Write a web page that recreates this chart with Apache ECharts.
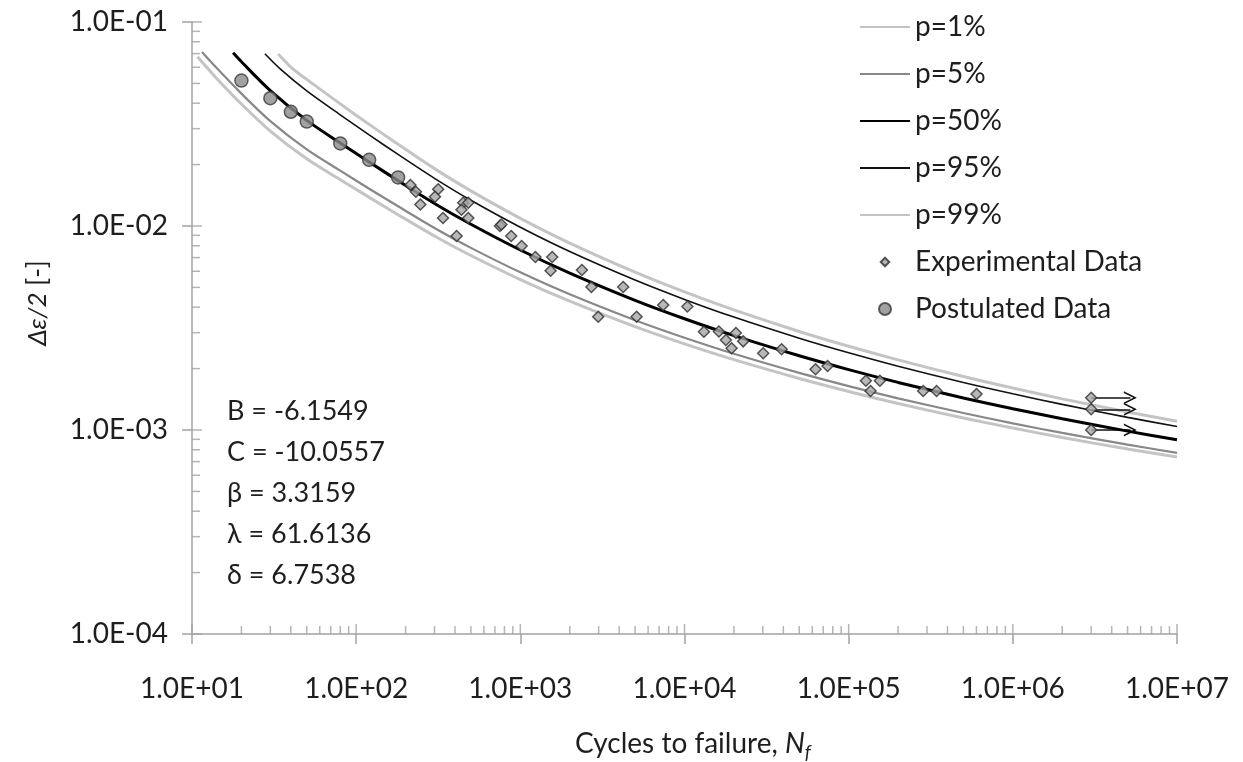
<!DOCTYPE html>
<html><head><meta charset="utf-8">
<script src="https://cdn.jsdelivr.net/npm/echarts@6/dist/echarts.min.js"></script>
<style>html,body{margin:0;padding:0;background:#fff}#c{width:1243px;height:762px}</style>
</head><body><div id="c"></div>
<script>
// ---- data ----
const seriesNames = ['p=1%','p=5%','p=50%','p=95%','p=99%','Experimental Data','Postulated Data'];

const p1N  = [10.8,14,20,30,50,80,120,180,300,500,1e3,2e3,5e3,1e4,2e4,5e4,1e5,2e5,5e5,1e6,2e6,5e6,1e7];
const p1E  = [0.06755,0.05336,0.03962,0.02921,0.02135,0.01687,0.01381,0.01136,0.008937,0.007167,0.005462,0.004279,0.003210,0.002643,0.002212,0.001788,0.001545,0.001349,0.001145,0.001022,0.0009189,0.0008066,0.0007365];

const p5N  = [11.5,14,20,30,50,80,120,180,300,500,1e3,2e3,5e3,1e4,2e4,5e4,1e5,2e5,5e5,1e6,2e6,5e6,1e7];
const p5E  = [0.07123,0.05993,0.04455,0.03267,0.02374,0.01867,0.01523,0.01249,0.009779,0.007814,0.005930,0.004626,0.003453,0.002834,0.002365,0.001905,0.001641,0.001430,0.001211,0.001078,0.0009677,0.0008479,0.0007728];

const p50N = [17.8,20,30,50,80,120,180,300,500,1e3,2e3,5e3,1e4,2e4,5e4,1e5,2e5,5e5,1e6,2e6,5e6,1e7];
const p50E = [0.07059,0.06381,0.04611,0.03293,0.02552,0.02058,0.01669,0.01290,0.01020,0.007626,0.005876,0.004321,0.003510,0.002902,0.002312,0.001977,0.001711,0.001436,0.001272,0.001135,0.0009875,0.0008956];

const p95N = [27.8,35,50,80,120,180,300,500,1e3,2e3,5e3,1e4,2e4,5e4,1e5,2e5,5e5,1e6,2e6,5e6,1e7];
const p95E = [0.06989,0.05821,0.04594,0.03509,0.02796,0.02243,0.01713,0.01337,0.009861,0.007497,0.005431,0.004366,0.003576,0.002817,0.002390,0.002054,0.001709,0.001504,0.001335,0.001153,0.001041];

const p99N = [33.5,40,50,80,120,180,300,500,1e3,2e3,5e3,1e4,2e4,5e4,1e5,2e5,5e5,1e6,2e6,5e6,1e7];
const p99E = [0.06963,0.06016,0.05231,0.03970,0.03149,0.02515,0.01911,0.01486,0.01090,0.008242,0.005936,0.004752,0.003879,0.003041,0.002573,0.002206,0.001829,0.001605,0.001421,0.001225,0.001104];

const expN = [214,231,246,316,302,338,409,449,482,438,482,751,767,880,1018,1236,1564,1529,2372,2710,2982,4233,5109,7420,10410,13130,16200,20560,17870,22780,19360,30160,39040,62860,74370,127300,154900,135900,284300,343000,600900,3e6,3e6,3e6];
const expE = [0.01589,0.01473,0.01275,0.01513,0.01391,0.01094,0.008933,0.0130,0.0130,0.01202,0.01094,0.0100,0.01017,0.008933,0.00798,0.007047,0.007047,0.006037,0.006085,0.005024,0.003593,0.005024,0.003593,0.0041,0.004031,0.003033,0.003039,0.002988,0.002762,0.002721,0.002515,0.002377,0.002487,0.001984,0.002059,0.001744,0.001744,0.001553,0.001553,0.001553,0.001501,0.00144,0.001263,0.001];

const postN = [20,30,40,50,80,120,180];
const postE = [0.0516,0.0423,0.0363,0.0325,0.0254,0.0211,0.0173];

const runoutN = [3e6,3e6,3e6];
const runoutE = [0.00144,0.001263,0.001];
const arrowEndN = [5.2e6,5.2e6,5.2e6];

const xTicks = [10,100,1e3,1e4,1e5,1e6,1e7];
const yTicks = [1e-4,1e-3,1e-2,1e-1];
const params = ['B = -6.1549','C = -10.0557','β = 3.3159','λ = 61.6136','δ = 6.7538'];

// ---- helpers ----
const zip = (a,b) => a.map((v,i)=>[v,b[i]]);
const fmtE = v => { const e = Math.round(Math.log10(v)); return '1.0E' + (e<0?'-':'+') + String(Math.abs(e)).padStart(2,'0'); };
const FONT = 'Lato';
const TXT = '#1e1e1e';
const AX = '#a3a3a3';

const minorX = []; xTicks.slice(0,-1).forEach(d=>{ for(let k=2;k<=9;k++) minorX.push(k*d); });
const minorY = []; yTicks.slice(0,-1).forEach(d=>{ for(let k=2;k<=9;k++) minorY.push(k*d); });

const chevron = 'path://M0,12 L6,0 L12,12 L10.4,12 L6,3.2 L1.6,12 Z';
const diamondIcon = 'path://M0,0 M14,14 M7,2 L12,7 L7,12 L2,7 Z';

function lineSeries(name, N, E, color, width, z){
  return {name, type:'line', data: zip(N,E), symbol:'none', smooth:0.3,
          lineStyle:{color, width}, itemStyle:{color}, z, silent:true, clip:false};
}

const chart = echarts.init(document.getElementById('c'), null, {renderer:'canvas'});
chart.setOption({
  animation:false,
  backgroundColor:'#fff',
  grid:{left:192, right:66, top:22, bottom:128, outerBoundsMode:'none', containLabel:false},
  xAxis:{type:'log', logBase:10, min:10, max:1e7,
    axisLine:{show:true, lineStyle:{color:AX, width:1.5}},
    axisTick:{show:true, inside:false, length:10, lineStyle:{color:AX, width:1.5}},
    minorTick:{show:false}, splitLine:{show:false},
    axisLabel:{fontFamily:FONT, fontSize:28, color:TXT, margin:41, formatter:fmtE}},
  yAxis:{type:'log', logBase:10, min:1e-4, max:1e-1,
    axisLine:{show:true, lineStyle:{color:AX, width:1.5}},
    axisTick:{show:true, inside:false, length:10, lineStyle:{color:AX, width:1.5}},
    minorTick:{show:false}, splitLine:{show:false},
    axisLabel:{fontFamily:FONT, fontSize:28, color:TXT, margin:24, formatter:fmtE}},
  legend:{orient:'vertical', left:854, top:8, itemWidth:50, itemHeight:12, itemGap:19,
    textStyle:{fontFamily:FONT, fontSize:28, color:TXT, lineHeight:28},
    data:[
      {name:seriesNames[0], itemStyle:{opacity:0}},
      {name:seriesNames[1], itemStyle:{opacity:0}},
      {name:seriesNames[2], itemStyle:{opacity:0}},
      {name:seriesNames[3], itemStyle:{opacity:0}},
      {name:seriesNames[4], itemStyle:{opacity:0}},
      {name:seriesNames[5], icon:diamondIcon},
      {name:seriesNames[6], icon:'circle'}
    ]},
  series:[
    lineSeries(seriesNames[0], p1N, p1E, '#c4c4c4', 3, 2),
    lineSeries(seriesNames[1], p5N, p5E, '#888888', 2.2, 3),
    lineSeries(seriesNames[2], p50N, p50E, '#000000', 3, 5),
    lineSeries(seriesNames[3], p95N, p95E, '#111111', 1.6, 4),
    lineSeries(seriesNames[4], p99N, p99E, '#c4c4c4', 3, 2),
    {name:seriesNames[5], type:'scatter', data: zip(expN, expE), symbol:'diamond', symbolSize:11,
     itemStyle:{color:'#a6a6a6', borderColor:'#2e2e2e', borderWidth:1.5}, z:8, clip:false,
     markLine:{silent:true, symbol:['none', chevron], symbolSize:[13,13],
       lineStyle:{color:'#111', width:1.5, type:'solid'}, label:{show:false}, emphasis:{disabled:true},
       data: runoutN.map((n,i)=>[{coord:[n, runoutE[i]]},{coord:[arrowEndN[i], runoutE[i]]}])}},
    {name:seriesNames[6], type:'scatter', data: zip(postN, postE), symbol:'circle', symbolSize:13,
     itemStyle:{color:'#8a8a8a', borderColor:'#3a3a3a', borderWidth:1.5}, z:9, clip:false},
    // inside halves of major ticks and minor ticks
    {type:'scatter', data: xTicks.map(v=>[v,1e-4]), symbol:'rect', symbolSize:[1.5,10], symbolOffset:[0,-5],
     itemStyle:{color:AX}, silent:true, clip:false, z:1},
    {type:'scatter', data: minorX.map(v=>[v,1e-4]), symbol:'rect', symbolSize:[1.5,8], symbolOffset:[0,-4],
     itemStyle:{color:AX}, silent:true, clip:false, z:1},
    {type:'scatter', data: yTicks.map(v=>[10,v]), symbol:'rect', symbolSize:[10,1.5], symbolOffset:[5,0],
     itemStyle:{color:AX}, silent:true, clip:false, z:1},
    {type:'scatter', data: minorY.map(v=>[10,v]), symbol:'rect', symbolSize:[8,1.5], symbolOffset:[4,0],
     itemStyle:{color:AX}, silent:true, clip:false, z:1}
  ],
  graphic:[
    {type:'text', x:38, y:303, rotation:Math.PI/2,
     style:{text:'{i|Δε/2} [-]', fontFamily:FONT, fontSize:26, fill:TXT, align:'center', verticalAlign:'middle',
            rich:{i:{fontFamily:FONT, fontSize:26, fontStyle:'italic', fill:TXT}}}},
    {type:'text', x:693, y:744,
     style:{text:'{a|Cycles to failure, }{i|N}{s|f}', align:'center', verticalAlign:'middle',
            rich:{a:{fontFamily:FONT, fontSize:28, fill:TXT, lineHeight:36},
                  i:{fontFamily:FONT, fontSize:28, fontStyle:'italic', fill:TXT, lineHeight:36},
                  s:{fontFamily:FONT, fontSize:19, fontStyle:'italic', fill:TXT, lineHeight:19, verticalAlign:'bottom'}}}},
    {type:'text', x:227, y:391,
     style:{text: params.join('\n'), fontFamily:FONT, fontSize:27, lineHeight:41, fill:TXT}}
  ]
});
</script></body></html>
